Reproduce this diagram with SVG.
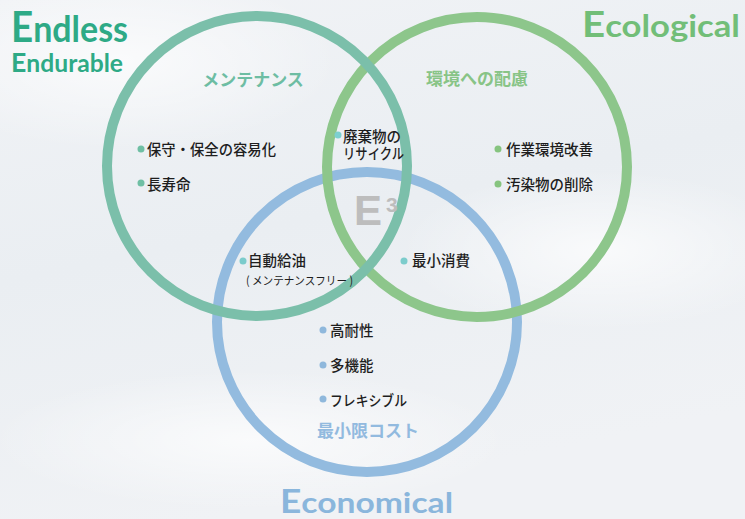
<svg xmlns="http://www.w3.org/2000/svg" width="745" height="519" viewBox="0 0 745 519">
  <defs>
    <linearGradient id="bg" x1="0" y1="0" x2="0.3" y2="1">
      <stop offset="0" stop-color="#f1f3f6"/>
      <stop offset="0.5" stop-color="#eaeef2"/>
      <stop offset="1" stop-color="#f0f2f5"/>
    </linearGradient>
    <radialGradient id="glow" cx="0.5" cy="0.5" r="0.5">
      <stop offset="0" stop-color="#ffffff" stop-opacity="0.7"/>
      <stop offset="1" stop-color="#ffffff" stop-opacity="0"/>
    </radialGradient>
  </defs>
  <style>
    .ring { fill: none; stroke-width: 10; }
    .title { font-family: Lato, "Liberation Sans", sans-serif; font-weight: 700; }
    .head { font-family: "Noto Sans CJK JP", sans-serif; font-weight: 700; font-size: 17px; text-anchor: middle; }
    .item { font-family: "Noto Sans CJK JP", sans-serif; font-weight: 500; font-size: 14.5px; fill: #1e1e1e; }
    .small { font-family: "Noto Sans CJK JP", sans-serif; font-weight: 400; font-size: 11.5px; fill: #1e1e1e; }
    .e3 { font-family: "Liberation Sans", Arial, sans-serif; font-weight: 700; fill: #bdbdbd; }
  </style>

  <rect width="745" height="519" fill="url(#bg)"/>
  <ellipse cx="120" cy="60" rx="220" ry="90" fill="url(#glow)"/>
  <ellipse cx="600" cy="250" rx="200" ry="80" fill="url(#glow)"/>
  <ellipse cx="250" cy="440" rx="260" ry="70" fill="url(#glow)"/>

  <g id="connectors"/>

  <g id="economical">
    <circle class="ring" cx="367" cy="322" r="150" stroke="#93bbdf"/>
    <text class="title" x="280" y="513" fill="#8ab6dc" textLength="173" lengthAdjust="spacingAndGlyphs"><tspan font-size="32">E</tspan><tspan font-size="29">conomical</tspan></text>
    <text class="head" x="368" y="437" fill="#92badf">最小限コスト</text>
    <circle cx="323" cy="330" r="3.5" fill="#8fb8dc"/>
    <text class="item" x="330" y="336">高耐性</text>
    <circle cx="323" cy="365" r="3.5" fill="#8fb8dc"/>
    <text class="item" x="330" y="371">多機能</text>
    <circle cx="323" cy="399" r="3.5" fill="#8fb8dc"/>
    <text class="item" x="330" y="406" textLength="77" lengthAdjust="spacingAndGlyphs">フレキシブル</text>
  </g>

  <g id="ecological">
    <circle class="ring" cx="477" cy="167" r="150" stroke="#8dc68b"/>
    <text class="title" x="582" y="37" fill="#72be78" textLength="158" lengthAdjust="spacingAndGlyphs"><tspan font-size="36">E</tspan><tspan font-size="31">cological</tspan></text>
    <text class="head" x="477" y="85" fill="#88c486">環境への配慮</text>
    <circle cx="498" cy="149" r="3.5" fill="#86c47f"/>
    <text class="item" x="506" y="155">作業環境改善</text>
    <circle cx="498" cy="184" r="3.5" fill="#86c47f"/>
    <text class="item" x="506" y="190">汚染物の削除</text>
  </g>

  <g id="endless">
    <circle class="ring" cx="257" cy="166" r="150" stroke="#7bbfaa"/>
    <text class="title" fill="#2eaa86"><tspan x="11" y="42" textLength="117" lengthAdjust="spacingAndGlyphs"><tspan font-size="42">E</tspan><tspan font-size="37">ndless</tspan></tspan><tspan x="11" y="72" textLength="112" lengthAdjust="spacingAndGlyphs"><tspan font-size="27">E</tspan><tspan font-size="25">ndurable</tspan></tspan></text>
    <text class="head" x="253" y="86" fill="#6dbda3">メンテナンス</text>
    <circle cx="141" cy="149" r="3.5" fill="#6fbfa4"/>
    <text class="item" x="147" y="155" textLength="129" lengthAdjust="spacingAndGlyphs">保守・保全の容易化</text>
    <circle cx="141" cy="183" r="3.5" fill="#6fbfa4"/>
    <text class="item" x="147" y="190">長寿命</text>
  </g>

  <g id="overlaps">
    <circle cx="338" cy="135" r="3.5" fill="#7ccfd0"/>
    <text class="item"><tspan x="343" y="142">廃棄物の</tspan><tspan x="343" y="159" textLength="61" lengthAdjust="spacingAndGlyphs">リサイクル</tspan></text>
    <circle cx="243" cy="261" r="3.5" fill="#7ccccc"/>
    <text class="item" x="248" y="266">自動給油</text>
    <text class="small" x="246" y="285" textLength="107" lengthAdjust="spacingAndGlyphs">( メンテナンスフリー )</text>
    <circle cx="404" cy="261" r="3.5" fill="#7ccccc"/>
    <text class="item" x="412" y="266">最小消費</text>
    <text class="e3" x="354" y="225" font-size="42">E<tspan font-size="21" dx="4" dy="-13">3</tspan></text>
  </g>
</svg>
